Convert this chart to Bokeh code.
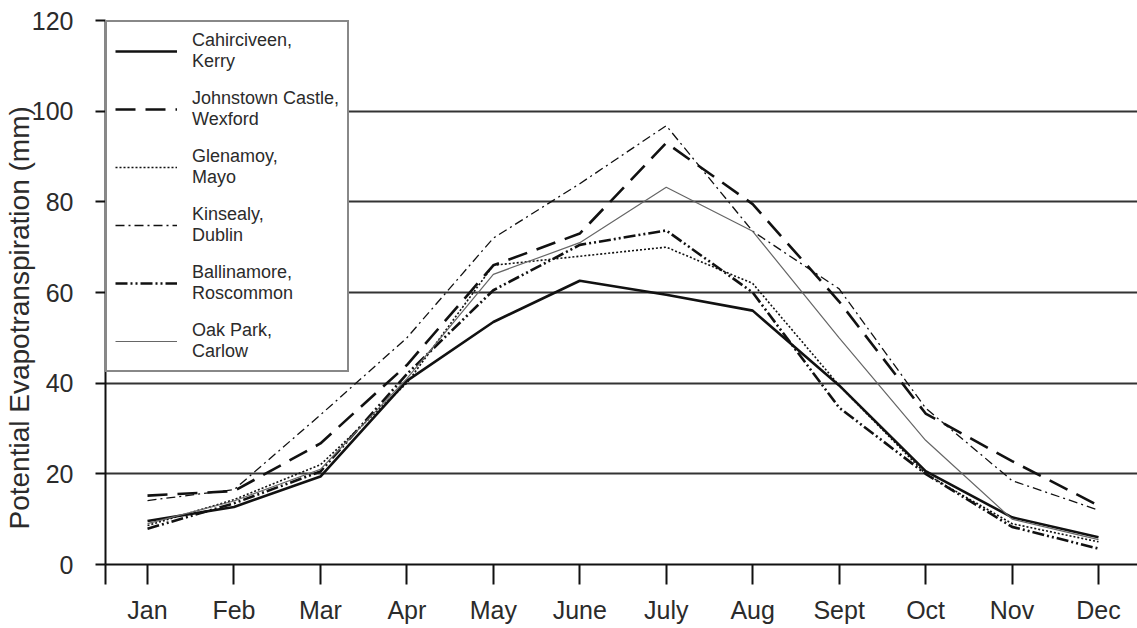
from bokeh.plotting import figure
from bokeh.models import Legend, LegendItem, FixedTicker, Range1d, Title
from bokeh.core.properties import value
from bokeh.embed import file_html
from bokeh.resources import INLINE

months = ["Jan", "Feb", "Mar", "Apr", "May", "June", "July", "Aug", "Sept", "Oct", "Nov", "Dec"]
cahirciveen = [9.6, 12.7, 19.4, 40.5, 53.5, 62.6, 59.5, 56.0, 39.5, 20.6, 10.4, 6.0]
johnstown = [15.2, 16.2, 26.7, 44.0, 66.0, 73.0, 93.0, 79.5, 58.0, 33.3, 22.8, 13.0]
glenamoy = [8.6, 14.3, 22.0, 40.0, 66.0, 68.0, 70.0, 62.0, 39.5, 20.0, 9.0, 5.0]
kinsealy = [14.1, 16.5, 33.0, 50.0, 72.0, 84.0, 96.8, 73.5, 60.8, 34.5, 18.5, 12.0]
ballinamore = [7.9, 13.5, 20.5, 42.0, 60.5, 70.5, 73.7, 60.0, 34.6, 20.0, 8.3, 3.5]
oakpark = [9.0, 14.0, 21.0, 41.0, 64.0, 71.0, 83.2, 73.5, 50.0, 27.4, 10.0, 5.5]

stations = [
    ("Cahirciveen,\nKerry", cahirciveen, dict(line_color="#111111", line_width=2.6, line_dash="solid")),
    ("Johnstown Castle,\nWexford", johnstown, dict(line_color="#111111", line_width=2.6, line_dash="20 10")),
    ("Glenamoy,\nMayo", glenamoy, dict(line_color="#111111", line_width=1.6, line_dash="2 2")),
    ("Kinsealy,\nDublin", kinsealy, dict(line_color="#111111", line_width=1.3, line_dash="9 4 2 4")),
    ("Ballinamore,\nRoscommon", ballinamore, dict(line_color="#111111", line_width=2.6, line_dash="12 3 2 3 2 3")),
    ("Oak Park,\nCarlow", oakpark, dict(line_color="#666666", line_width=1.2, line_dash="solid")),
]

x_start, x_end = -0.486, 11.451
xs = list(range(len(months)))

p = figure(width=1137, height=628, output_backend="svg", toolbar_location=None,
           x_range=Range1d(x_start, x_end), y_range=Range1d(0, 120),
           min_border_left=105, min_border_top=20, min_border_bottom=64, min_border_right=0)
p.outline_line_color = None
p.background_fill_color = "white"
p.border_fill_color = "white"

items = []
for label, ys, style in stations:
    r = p.line(xs, ys, **style)
    items.append(LegendItem(label=value(label), renderers=[r]))

font = "Liberation Sans"
# y axis
p.yaxis.ticker = FixedTicker(ticks=[0, 20, 40, 60, 80, 100, 120])
p.yaxis.major_tick_out = 10
p.yaxis.major_tick_in = 0
p.yaxis.minor_tick_line_color = None
p.yaxis.axis_line_width = 2
p.yaxis.axis_line_color = "#111111"
p.yaxis.major_tick_line_width = 2
p.yaxis.major_tick_line_color = "#111111"
p.yaxis.major_label_text_font = font
p.yaxis.major_label_text_font_size = "25px"
p.yaxis.major_label_text_color = "#2b2b2b"
p.yaxis.major_label_standoff = 22

ylabel = Title(text="Potential Evapotranspiration (mm)", align="left", offset=35, standoff=-13,
               text_font=font, text_font_size="28px", text_font_style="normal",
               text_color="#2b2b2b")
p.add_layout(ylabel, "left")
spacer = Title(text=" ", standoff=0, text_font=font, text_font_size="5px")
p.add_layout(spacer, "left")

# x axis
p.xaxis.ticker = FixedTicker(ticks=[x_start] + xs)
p.xaxis.major_label_overrides = {**{i: m for i, m in enumerate(months)}, x_start: ""}
p.xaxis.major_tick_out = 20
p.xaxis.major_tick_in = 0
p.xaxis.minor_tick_line_color = None
p.xaxis.axis_line_width = 2
p.xaxis.axis_line_color = "#111111"
p.xaxis.major_tick_line_width = 2
p.xaxis.major_tick_line_color = "#111111"
p.xaxis.major_label_text_font = font
p.xaxis.major_label_text_font_size = "25px"
p.xaxis.major_label_text_color = "#2b2b2b"
p.xaxis.major_label_standoff = 11

p.xgrid.visible = False
p.ygrid.ticker = FixedTicker(ticks=[20, 40, 60, 80, 100, 120])
p.ygrid.grid_line_color = "#333333"
p.ygrid.grid_line_width = 2

legend = Legend(items=items, location="top_left", margin=0, padding=8, spacing=16,
                glyph_width=62, glyph_height=40, label_standoff=15,
                label_text_font=font, label_text_font_size="18px",
                label_text_color="#2b2b2b", label_text_line_height=1.35,
                border_line_color="#111111", border_line_width=2,
                background_fill_color="white", background_fill_alpha=1.0)
p.add_layout(legend)

open("out.html", "w").write(file_html(p, INLINE))
